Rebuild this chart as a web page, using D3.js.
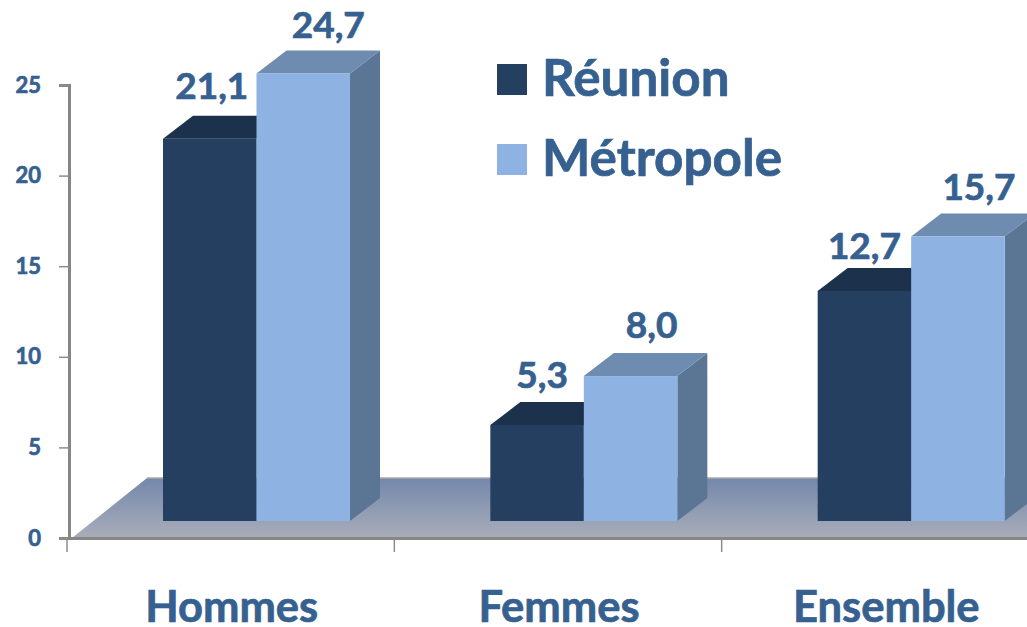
<!DOCTYPE html>
<html>
<head>
<meta charset="utf-8">
<script src="https://cdn.jsdelivr.net/npm/d3@7"></script>
<style>
  html, body { margin: 0; padding: 0; background: #fff; overflow: hidden; }
  text { font-family: Lato, "Open Sans", sans-serif; font-weight: 700; fill: #36608f; stroke: #36608f; stroke-width: 0.7px; }
</style>
</head>
<body>
<svg id="chart" width="1027" height="627"></svg>
<script>
// values
const categories = ['Hommes', 'Femmes', 'Ensemble'];
const seriesNames = ['Réunion', 'Métropole'];
const reunion = [21.1, 5.3, 12.7];
const metropole = [24.7, 8.0, 15.7];
const yTicks = [0, 5, 10, 15, 20, 25];

const svg = d3.select('#chart');
const defs = svg.append('defs');

const floorGrad = defs.append('linearGradient')
  .attr('id', 'floorGrad')
  .attr('x1', 0).attr('y1', 0).attr('x2', 0).attr('y2', 1);
floorGrad.append('stop').attr('offset', '0%').attr('stop-color', '#7488ab');
floorGrad.append('stop').attr('offset', '100%').attr('stop-color', '#a9adba');

// scales
const y = d3.scaleLinear().domain([0, 25]).range([538, 85]);
const x0 = d3.scaleBand().domain(categories).range([67, 1049]);
const x1 = d3.scaleBand().domain(seriesNames).range([96, 283]);

// 3d look of the bars
const depthX = 30;
const depthY = 23;
const floorLift = 17;
const styles = [
  { front: '#253f61', top: '#1c314b', side: '#253f61' },
  { front: '#8eb3e3', top: '#6e8bb0', side: '#5b7595' }
];

// floor
svg.append('polygon')
  .attr('points', [[72, y(0)], [147, 478], [1027, 478], [1027, y(0)]].join(' '))
  .attr('fill', 'url(#floorGrad)');
svg.append('line')
  .attr('x1', 147).attr('x2', 1027).attr('y1', 478).attr('y2', 478)
  .attr('stroke', '#a8a8a8').attr('stroke-width', 1.5);

// axes
const yAxis = svg.append('g')
  .attr('transform', 'translate(69,0)')
  .call(d3.axisLeft(y).tickValues(yTicks).tickSize(10).tickPadding(18));
const xAxis = svg.append('g')
  .attr('transform', `translate(0,${y(0)})`)
  .call(d3.axisBottom(x0).tickValues([]).tickSize(0));

yAxis.select('.domain').attr('stroke', '#868686').attr('stroke-width', 3);
yAxis.selectAll('.tick line').attr('stroke', '#8c8c8c').attr('stroke-width', 1.5);
yAxis.selectAll('.tick text')
  .style('font-size', '22px')
  .style('font-family', 'Lato')
  .style('font-weight', 700);
xAxis.select('.domain').attr('stroke', '#868686').attr('stroke-width', 3);

// category ticks and labels
svg.selectAll('.cat-tick')
  .data(categories)
  .enter()
  .append('line')
  .attr('class', 'cat-tick')
  .attr('x1', d => x0(d)).attr('x2', d => x0(d))
  .attr('y1', y(0) + 1).attr('y2', y(0) + 14)
  .attr('stroke', '#8c8c8c').attr('stroke-width', 1.5);

svg.selectAll('.cat-label')
  .data(categories)
  .enter()
  .append('text')
  .attr('class', 'cat-label')
  .attr('x', d => x0(d) + x0.bandwidth() / 2 + 1)
  .attr('y', 622)
  .attr('text-anchor', 'middle')
  .style('font-size', '43.5px')
  .text(d => d);

// bars, one series after the other so the light bar covers the dark top
const barValues = [reunion, metropole];
seriesNames.forEach((name, s) => {
  const g = svg.append('g').attr('class', 'series');
  categories.forEach((cat, i) => {
    const left = x0(cat) + x1(name);
    const right = left + x1.bandwidth();
    const top = y(barValues[s][i]) - floorLift;
    const bottom = y(0) - floorLift;

    g.append('polygon')
      .attr('points', [[right, top], [right + depthX, top - depthY], [right + depthX, bottom - depthY], [right, bottom]].join(' '))
      .attr('fill', styles[s].side);
    g.append('polygon')
      .attr('points', [[left, top], [left + depthX, top - depthY], [right + depthX, top - depthY], [right, top]].join(' '))
      .attr('fill', styles[s].top);
    g.append('rect')
      .attr('x', left).attr('y', top)
      .attr('width', x1.bandwidth()).attr('height', bottom - top)
      .attr('fill', styles[s].front);
  });
});

// value labels, hand placed like in the original
const labelNudge = [
  [[2, -40], [5, -37], [0, -32]],
  [[25, -35], [21, -38], [21, -37]]
];
seriesNames.forEach((name, s) => {
  categories.forEach((cat, i) => {
    svg.append('text')
      .attr('x', x0(cat) + x1(name) + x1.bandwidth() / 2 + labelNudge[s][i][0])
      .attr('y', y(barValues[s][i]) - floorLift + labelNudge[s][i][1])
      .attr('text-anchor', 'middle')
      .style('font-size', '37px')
      .text(barValues[s][i].toFixed(1).replace('.', ','));
  });
});

// legend
const legendY = d3.scalePoint().domain(seriesNames).range([79, 159]);
const legend = svg.selectAll('.legend')
  .data(seriesNames)
  .enter()
  .append('g')
  .attr('class', 'legend')
  .attr('transform', d => `translate(497,${legendY(d)})`);
legend.append('rect')
  .attr('y', -15).attr('width', 30).attr('height', 31)
  .attr('fill', (d, i) => styles[i].front);
legend.append('text')
  .attr('x', 45).attr('y', 17)
  .style('font-size', '51.2px')
  .text(d => d);
</script>
</body>
</html>
